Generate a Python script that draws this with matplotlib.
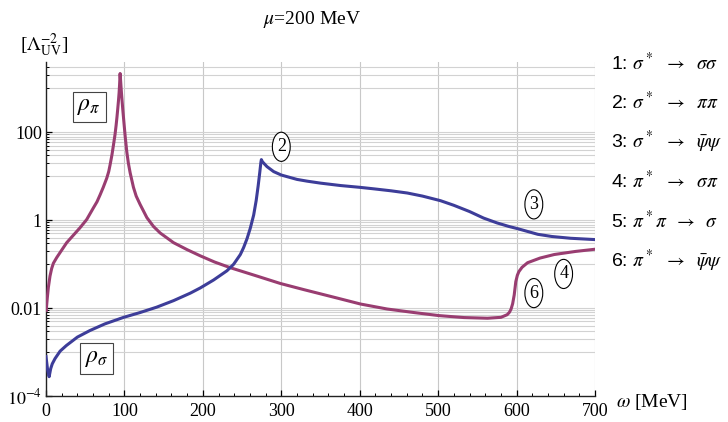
import matplotlib
matplotlib.use("Agg")
import matplotlib.pyplot as plt
import numpy as np

plt.rcParams['font.family'] = ['Liberation Serif', 'DejaVu Serif']
plt.rcParams['mathtext.fontset'] = 'stix'

# rho_pi (magenta)
w_pi = [0.3, 1, 1.7, 3, 5.1, 7.2, 9.4, 13.6, 20, 26.4, 34.9, 43.4, 51.9, 60.4, 65, 69,
        73, 77.5, 80, 81.7, 84, 86, 88, 89.4, 90.5, 91.5, 92.4, 93.2, 93.8, 94.5,
        96.2, 97.9, 99.5, 101, 103, 105, 107.3, 111.5, 115, 120, 128.6, 137, 145.6,
        162.6, 180, 196.7, 215, 235, 269, 299, 329, 371, 401, 435, 469, 501, 533, 563,
        580, 588, 591, 593, 595, 597, 599, 601, 603, 605, 607, 614, 630, 648, 675, 700]
rho_pi = [0.0089, 0.0126, 0.0174, 0.0295, 0.0537, 0.0794, 0.105, 0.141, 0.209, 0.309, 0.457,
          0.676, 1.04, 1.91, 2.63, 3.80,
          5.62, 9.12, 12.9, 18.2, 30.2, 51.3, 89.1, 145, 224, 347, 525, 794, 1200, 2190,
          794, 331, 158, 79.4, 36.3, 20.0, 12.0, 5.62, 3.55, 2.29, 1.15, 0.724, 0.513,
          0.309, 0.214, 0.155, 0.112, 0.0832, 0.0537, 0.0363, 0.0263, 0.0170, 0.0124,
          0.00955, 0.00794, 0.00676, 0.00610, 0.00589,
          0.00617, 0.00708, 0.0081, 0.00955, 0.0126, 0.020, 0.040, 0.056, 0.068, 0.076,
          0.085, 0.108, 0.138, 0.166, 0.195, 0.219]

# rho_sigma (blue)
w_sig = [0, 2, 4, 6, 8, 11.5, 18, 26, 40, 56, 75, 99, 120, 141, 162.6, 183.9, 196.7, 213.7,
         230.7, 239.3, 247.8, 252, 256.3, 260.5, 264.8, 268, 270.5, 272.5, 274, 274.6, 276,
         281.8, 290.3, 300, 320, 333, 350, 375.5, 400, 418, 440, 460.7, 480, 503, 520, 540,
         558, 575, 590, 601, 615, 627, 645, 669, 700]
rho_sig = [7.9e-4, 4.0e-4, 2.75e-4, 4.2e-4, 5.4e-4, 7.1e-4, 1.05e-3, 1.41e-3, 2.19e-3, 3.09e-3,
           4.37e-3, 6.17e-3, 7.94e-3, 0.0105, 0.0148, 0.0219, 0.0288, 0.0437,
           0.0708, 0.100, 0.166, 0.240, 0.380, 0.661, 1.32, 2.82, 6.03, 12.0, 20.9, 24.0, 21.4,
           16.6, 12.8, 10.7, 8.51, 7.76, 7.0, 6.17, 5.62, 5.19, 4.68, 4.17, 3.55, 2.79, 2.19, 1.58,
           1.12, 0.871, 0.724, 0.646, 0.550, 0.479, 0.427, 0.389, 0.363]

legend_rows = [r"1: $\sigma^*\;\ \rightarrow\ \;\sigma\sigma$",
               r"2: $\sigma^*\;\ \rightarrow\ \;\pi\pi$",
               r"3: $\sigma^*\;\ \rightarrow\ \;\bar{\psi}\psi$",
               r"4: $\pi^*\;\ \rightarrow\ \;\sigma\pi$",
               r"5: $\pi^*\pi\;\ \rightarrow\ \;\sigma$",
               r"6: $\pi^*\;\ \rightarrow\ \;\bar{\psi}\psi$"]

# circled channel numbers: (label, omega, value)
circ_labels = ["2", "3", "4", "6"]
circ_w = [300, 622, 660, 622]
circ_y = [47, 2.3, 0.06, 0.022]

blue = '#3d3d99'
magenta = '#993d71'
grid_c = '#d2d2d2'

fig = plt.figure(figsize=(7.28, 4.22), dpi=100)
ax = fig.add_axes([46 / 728, 26 / 422, 549 / 728, 334 / 422])
ax.set_yscale('log')
ax.set_xlim(0, 700)
ax.set_ylim(1e-4, 4000)

# grid: vertical every 100, horizontal in every second decade
for xv in range(100, 701, 100):
    ax.axvline(xv, color='#c8c8c8', lw=0.8, zorder=0)
hgrid = []
for base in [1e-3, 1e-1, 1e1, 1e3]:
    for k in range(1, 11):
        if base * k < 4000:
            hgrid.append(base * k)
for yv in hgrid:
    ax.axhline(yv, color=grid_c, lw=0.8, zorder=0)

ax.plot(w_pi, rho_pi, color=magenta, lw=2.2, solid_joinstyle='round', zorder=3)
ax.plot(w_sig, rho_sig, color=blue, lw=2.2, solid_joinstyle='round', zorder=3)

for s in ['top', 'right']:
    ax.spines[s].set_visible(False)
for s in ['left', 'bottom']:
    ax.spines[s].set_linewidth(1.0)
    ax.spines[s].set_color('#222222')

ax.set_xticks(range(0, 701, 100))
ax.set_xticks(range(0, 701, 20), minor=True)
ax.set_xticklabels([str(v) for v in range(0, 701, 100)])
ax.set_yticks([1e-4, 1e-2, 1, 100])
ax.set_yticklabels([r"$10^{-4}$", "0.01", "1", "100"])
ax.set_yticks(hgrid, minor=True)
ax.yaxis.set_minor_formatter(matplotlib.ticker.NullFormatter())
ax.tick_params(axis='both', which='major', direction='in', length=4, width=0.9,
               labelsize=13, pad=3)
ax.tick_params(axis='both', which='minor', direction='in', length=2, width=0.7)
ax.tick_params(axis='x', which='major', pad=5)

# boxed curve names
ax.text(55, 380, r"$\rho_\pi$", fontsize=17, ha='center', va='center',
        bbox=dict(boxstyle='square,pad=0.2', fc='white', ec='#444444', lw=0.8), zorder=5)
ax.text(64.5, 7.2e-4, r"$\rho_\sigma$", fontsize=17, ha='center', va='center',
        bbox=dict(boxstyle='square,pad=0.2', fc='white', ec='#444444', lw=0.8), zorder=5)

for lab, xv, yv in zip(circ_labels, circ_w, circ_y):
    ax.text(xv, yv, lab, fontsize=13, ha='center', va='center',
            bbox=dict(boxstyle='ellipse,pad=0.1', fc='white', ec='black', lw=0.8), zorder=5)

fig.text(312 / 728, 1 - 20 / 422, r"$\mu$=200 MeV", fontsize=14, ha='center', va='center')
fig.text(20 / 728, 1 - 45 / 422, r"[$\Lambda_{\rm UV}^{-2}$]", fontsize=14, ha='left', va='center')
fig.text(616 / 728, 1 - 402 / 422, r"$\omega$ [MeV]", fontsize=14, ha='left', va='center')

for i, row in enumerate(legend_rows):
    fig.text(611 / 728, 1 - (63 + 39.5 * i) / 422, row, fontsize=14, ha='left', va='center',
             family=['Liberation Sans', 'DejaVu Sans'])

fig.savefig('out.png', dpi=100)
